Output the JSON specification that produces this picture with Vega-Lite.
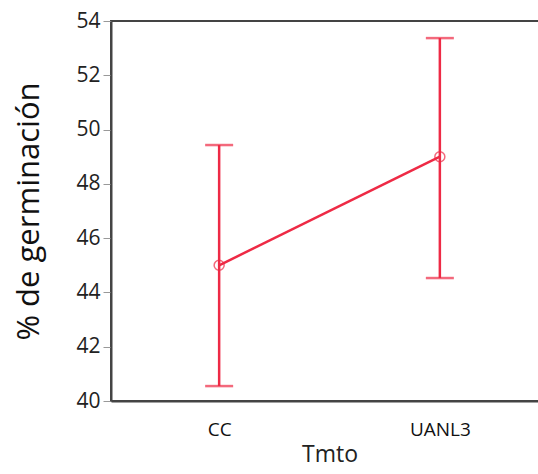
{
  "$schema": "https://vega.github.io/schema/vega-lite/v6.json",
  "autosize": {"type": "none"},
  "padding": {"left": 111, "top": 21, "right": 0, "bottom": 73},
  "width": 437,
  "height": 380,
  "background": "white",
  "config": {
    "view": {"stroke": "#444444", "strokeWidth": 2},
    "font": "Open Sans"
  },
  "data": {
    "values": [
      {"Tmto": "CC", "mean": 45.0, "lo": 40.55, "hi": 49.43},
      {"Tmto": "UANL3", "mean": 49.0, "lo": 44.53, "hi": 53.37}
    ]
  },
  "encoding": {
    "x": {
      "field": "Tmto",
      "type": "nominal",
      "scale": {"type": "point", "padding": 0.49},
      "axis": {
        "title": "Tmto",
        "titleFontSize": 23,
        "titleFontWeight": "normal",
        "titleColor": "#222222",
        "titlePadding": 4,
        "labelFontSize": 19,
        "labelColor": "#111111",
        "labelAngle": 0,
        "labelPadding": 19,
        "ticks": false,
        "domainColor": "#444444",
        "domainWidth": 2
      }
    }
  },
  "layer": [
    {
      "mark": {"type": "rule", "color": "#EE2A45", "strokeWidth": 2.5},
      "encoding": {
        "y": {
          "field": "lo",
          "type": "quantitative",
          "scale": {"domain": [40, 54], "nice": false, "zero": false},
          "axis": {
            "title": "% de germinación",
            "titleFontSize": 31,
            "titleFontWeight": "normal",
            "titleColor": "#111111",
            "titlePadding": 30,
            "values": [40, 42, 44, 46, 48, 50, 52, 54],
            "labelFontSize": 21,
            "labelColor": "#222222",
            "labelPadding": 3,
            "tickSize": 8,
            "tickColor": "#999999",
            "tickWidth": 1,
            "grid": false,
            "domainColor": "#444444",
            "domainWidth": 2
          }
        },
        "y2": {"field": "hi"}
      }
    },
    {
      "mark": {"type": "tick", "color": "#EE2A45", "size": 28, "thickness": 2.5, "orient": "horizontal"},
      "encoding": {"y": {"field": "lo", "type": "quantitative"}}
    },
    {
      "mark": {"type": "tick", "color": "#EE2A45", "size": 28, "thickness": 2.5, "orient": "horizontal"},
      "encoding": {"y": {"field": "hi", "type": "quantitative"}}
    },
    {
      "mark": {"type": "line", "color": "#EE2A45", "strokeWidth": 2.5},
      "encoding": {"y": {"field": "mean", "type": "quantitative"}}
    },
    {
      "mark": {"type": "point", "color": "#EE2A45", "filled": false, "size": 100, "strokeWidth": 1.5},
      "encoding": {"y": {"field": "mean", "type": "quantitative"}}
    }
  ]
}
